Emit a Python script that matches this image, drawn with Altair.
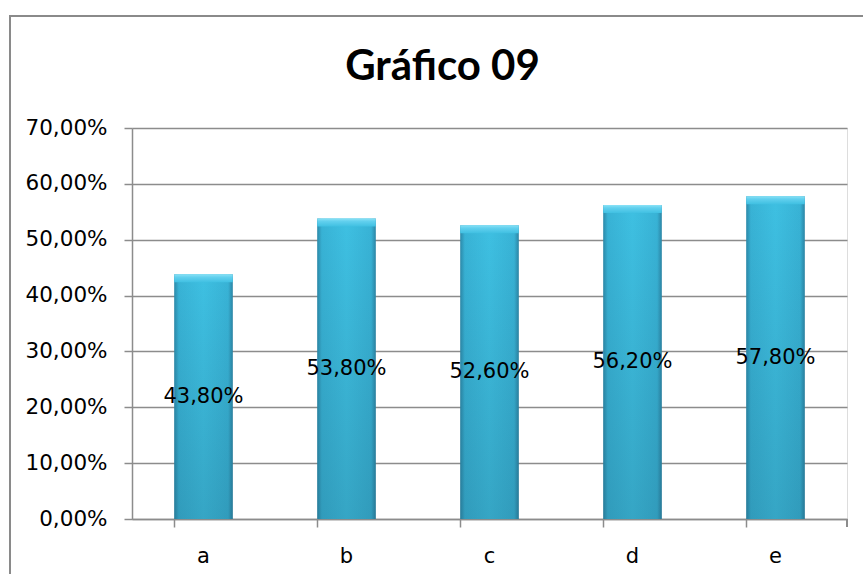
import altair as alt
import pandas as pd

# Chart data
categories = ["a", "b", "c", "d", "e"]
values = [43.8, 53.8, 52.6, 56.2, 57.8]
y_ticks = [0, 10, 20, 30, 40, 50, 60, 70]
title_text = "Gráfico 09"

df = pd.DataFrame({"cat": categories, "val": values})
df["label"] = df["val"].map(lambda v: f"{v:.2f}".replace(".", ",") + "%")

FONT = "DejaVu Sans"
GRID = "#8c8c8c"
W, H = 715, 391

x_enc = alt.X(
    "cat:N",
    sort=categories,
    scale=alt.Scale(paddingInner=0.59, paddingOuter=0.295),
    axis=alt.Axis(
        title=None, labelAngle=0, bandPosition=0, tickSize=8,
        tickColor=GRID, tickWidth=1.5, domainColor=GRID, domainWidth=1.5,
        labelFont=FONT, labelFontSize=21, labelColor="#000000",
        labelPadding=18, grid=False,
    ),
)
y_enc = alt.Y(
    "val:Q",
    scale=alt.Scale(domain=[0, 70], nice=False),
    axis=alt.Axis(
        title=None, values=y_ticks, tickSize=8, tickColor=GRID, tickWidth=1.5,
        domainColor=GRID, domainWidth=1.5, gridColor=GRID, gridWidth=1.5,
        labelExpr="replace(format(datum.value, '.2f'), '.', ',') + '%'",
        labelFont=FONT, labelFontSize=21.5, labelColor="#000000", labelPadding=17,
    ),
)

base = alt.Chart(df)

# Cylinder-like body: darker at the sides, lighter toward the middle
body = base.mark_bar(
    color={
        "gradient": "linear", "x1": 0, "x2": 1, "y1": 0, "y2": 0,
        "stops": [
            {"offset": 0, "color": "#2c8aaa"},
            {"offset": 0.08, "color": "#38b3d6"},
            {"offset": 0.5, "color": "#3ec0e2"},
            {"offset": 0.92, "color": "#38b3d6"},
            {"offset": 1, "color": "#2c86a6"},
        ],
    }
).encode(x=x_enc, y=y_enc)

# Vertical shading, darker toward the base
shade = base.mark_bar(
    color={
        "gradient": "linear", "x1": 0, "x2": 0, "y1": 0, "y2": 1,
        "stops": [
            {"offset": 0, "color": "rgba(20,60,80,0)"},
            {"offset": 1, "color": "rgba(20,60,80,0.2)"},
        ],
    }
).encode(x="cat:N", y="val:Q")

# Light bevelled cap on top of each bar
cap = base.mark_bar(
    y2Offset=8,
    color={
        "gradient": "linear", "x1": 0, "x2": 0, "y1": 0, "y2": 1,
        "stops": [
            {"offset": 0, "color": "#8ae2f6"},
            {"offset": 0.35, "color": "#62d0ee"},
            {"offset": 1, "color": "#40c0e2"},
        ],
    },
).encode(x="cat:N", y="val:Q", y2="val:Q")

labels = base.transform_calculate(mid="datum.val / 2").mark_text(
    font=FONT, fontSize=21, color="#000000", baseline="middle"
).encode(x="cat:N", y="mid:Q", text="label:N")

# Closing tick at the right end of the category axis
end_tick = alt.Chart(df).mark_rule(color=GRID, strokeWidth=1.5).encode(
    x=alt.value(W), y=alt.value(H), y2=alt.value(H + 8)
)

# Outer frame of the chart area
frame = alt.Chart(df).mark_rect(
    fill="transparent", stroke="#8a8a8a", strokeWidth=2
).encode(
    x=alt.value(-122), x2=alt.value(W + 60),
    y=alt.value(-112), y2=alt.value(H + 120),
)

# Chart heading, centred on the frame
heading = alt.Chart(pd.DataFrame({"t": [title_text]})).mark_text(
    font="Lato", fontSize=42, fontWeight="bold", color="#000000",
    baseline="alphabetic", align="center",
).encode(x=alt.value(310.5), y=alt.value(-48), text="t:N")

chart = (
    alt.layer(frame, body, shade, cap, labels, end_tick, heading)
    .properties(
        width=W, height=H,
        autosize=alt.AutoSizeParams(type="none"),
        padding={"left": 132, "top": 128, "right": 16, "bottom": 55},
    )
    .configure_view(stroke=None)
    .configure(background="#ffffff")
)

chart.save("out.html", embed_options={"renderer": "svg", "actions": False})
